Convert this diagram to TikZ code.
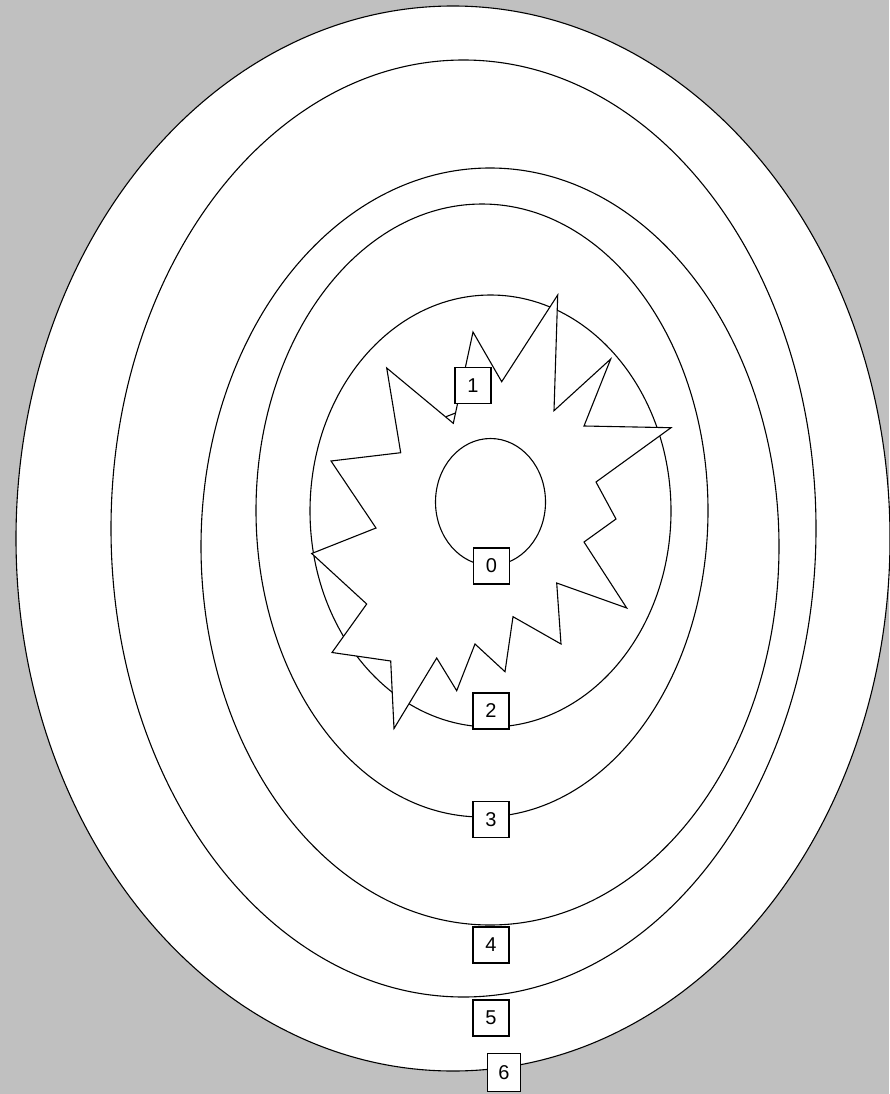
\documentclass[tikz,border=0pt]{standalone}
\usepackage{fontspec}
\setmainfont{Liberation Sans}
\begin{document}
\begin{tikzpicture}[x=1pt,y=-1pt,
  ring/.style={draw=black,line width=1.1pt},
  burst/.style={draw=black,fill=white,line width=1.1pt,line join=miter},
  lbl/.style={draw=black,fill=white,line width=1.1pt,minimum width=36pt,minimum height=36pt,inner sep=0pt,font=\fontsize{20}{23}\selectfont}]
\useasboundingbox (0,0) rectangle (889,1094);
\fill[fill={rgb,255:red,192;green,192;blue,192}] (0,0) rectangle (889,1094);
% rings
\filldraw[ring,fill=white] (453,538.5) ellipse [x radius=437pt,y radius=532.5pt];
\draw[ring] (463.5,528.5) ellipse [x radius=352.5pt,y radius=468.5pt];
\draw[ring] (490,546.5) ellipse [x radius=289pt,y radius=378.5pt];
\draw[ring] (482,510.5) ellipse [x radius=226pt,y radius=306.5pt];
\draw[ring] (490.5,511) ellipse [x radius=180.5pt,y radius=216pt];
% burst
\filldraw[burst] (557.7,295) -- (554,410.7) -- (610.7,359) -- (584,426) -- (671,427.7)
  -- (596,482) -- (616,519) -- (584,542) -- (626.7,608) -- (556.7,583) -- (561,644)
  -- (513,616.7) -- (505,671.7) -- (475,644) -- (456.7,690.7) -- (436.7,658)
  -- (394,728.5) -- (390.7,661) -- (332,652.5) -- (366.7,604) -- (311.7,553.5)
  -- (376,528) -- (331,461) -- (400.7,452.7) -- (386.7,368) -- (453.3,423.3)
  -- (473,332) -- (501.7,381.7) -- cycle;
\draw[ring] (446,416.7) -- (455.5,413);
% inner ring
\draw[ring] (490.5,502) ellipse [x radius=55pt,y radius=63.5pt];
% labels
\node[lbl] (l1) at (473,385.5) {1};
\node[lbl] (l0) at (491.5,566) {0};
\node[lbl] (l2) at (491,711) {2};
\node[lbl] (l3) at (491,819.5) {3};
\node[lbl] (l4) at (491,945) {4};
\node[lbl] (l5) at (491,1018) {5};
\node[lbl,minimum width=33pt,minimum height=38pt] (l6) at (504,1072.5) {6};
\end{tikzpicture}
\end{document}
